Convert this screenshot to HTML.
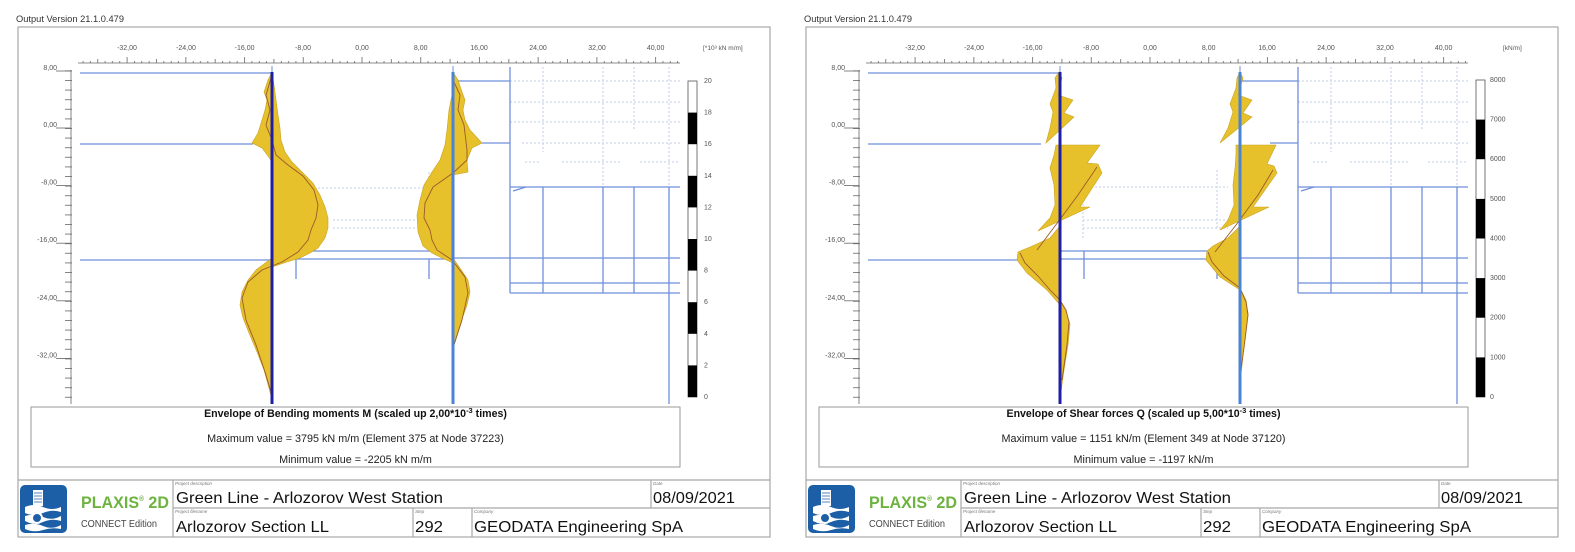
<!DOCTYPE html>
<html><head><meta charset="utf-8">
<style>
html,body{margin:0;padding:0;background:#fff;}
svg{display:block;}
text{font-family:"Liberation Sans",Arial,sans-serif;}
</style></head>
<body>
<svg width="1575" height="552" viewBox="0 0 1575 552" xmlns="http://www.w3.org/2000/svg">
<defs>
  <pattern id="rulerL" patternUnits="userSpaceOnUse" x="361.5" y="55" width="58.72" height="8">
    <path d="M0.5,2v6M7.84,6v2M15.18,6v2M22.52,6v2M29.86,4v4M37.2,6v2M44.54,6v2M51.88,6v2" stroke="#666" stroke-width="0.8"/>
  </pattern>
  <pattern id="yt" patternUnits="userSpaceOnUse" x="60" y="70.4" width="12" height="9.6">
    <path d="M5,0.5H12" stroke="#666" stroke-width="0.8"/>
  </pattern>
</defs>

<!-- ================= LEFT PANEL ================= -->
<g>
  <text x="16" y="22" font-size="9.3" fill="#333">Output Version 21.1.0.479</text>
  <rect x="18" y="27" width="752" height="510" fill="#fff" stroke="#a8a8a8" stroke-width="1.2"/>

  <!-- top ruler -->
  <rect x="78" y="55" width="602" height="8" fill="url(#rulerL)"/>
  <line x1="78" y1="63" x2="680" y2="63" stroke="#666" stroke-width="0.8"/>
  <g font-size="7" fill="#555" text-anchor="middle">
    <text x="127" y="50">-32,00</text><text x="186" y="50">-24,00</text><text x="244.6" y="50">-16,00</text>
    <text x="303" y="50">-8,00</text><text x="362" y="50">0,00</text><text x="420.7" y="50">8,00</text>
    <text x="479" y="50">16,00</text><text x="538" y="50">24,00</text><text x="597" y="50">32,00</text><text x="655.6" y="50">40,00</text>
  </g>
  <text x="703" y="50" font-size="6.5" fill="#555">[*10³ kN m/m]</text>

  <!-- y axis -->
  <rect x="60" y="70" width="12" height="334" fill="url(#yt)"/>
  <line x1="71" y1="70" x2="71" y2="404" stroke="#666" stroke-width="0.8"/>
  <g stroke="#666" stroke-width="0.8">
    <line x1="56" y1="71" x2="71" y2="71"/><line x1="56" y1="128" x2="71" y2="128"/><line x1="56" y1="185.6" x2="71" y2="185.6"/>
    <line x1="56" y1="243.2" x2="71" y2="243.2"/><line x1="56" y1="300.8" x2="71" y2="300.8"/><line x1="56" y1="358.4" x2="71" y2="358.4"/>
  </g>
  <g font-size="7" fill="#555" text-anchor="end">
    <text x="57" y="70">8,00</text><text x="57" y="127">0,00</text><text x="57" y="184.6">-8,00</text>
    <text x="57" y="242.2">-16,00</text><text x="57" y="299.8">-24,00</text><text x="57" y="357.4">-32,00</text>
  </g>

  <!-- dotted grid -->
  <g stroke="#c3cde8" stroke-width="1" stroke-dasharray="2,2" fill="none">
    <line x1="510" y1="81" x2="680" y2="81"/><line x1="510" y1="102" x2="680" y2="102"/>
    <line x1="510" y1="122" x2="680" y2="122"/><line x1="522" y1="143" x2="680" y2="143"/>
    <line x1="525" y1="162" x2="540" y2="162"/><line x1="562" y1="162" x2="620" y2="162"/><line x1="640" y1="162" x2="680" y2="162"/>
    <line x1="543" y1="67" x2="543" y2="152"/><line x1="603" y1="67" x2="603" y2="187"/>
    <line x1="634" y1="67" x2="634" y2="130"/><line x1="669" y1="67" x2="669" y2="187"/>
    <line x1="318" y1="188" x2="425" y2="188"/><line x1="333" y1="220" x2="420" y2="220"/><line x1="333" y1="228" x2="420" y2="228"/>
    <line x1="429" y1="172" x2="429" y2="200"/>
  </g>

  <!-- structure -->
  <g stroke="#6f8fdc" stroke-width="1.3" fill="none">
    <line x1="80" y1="73" x2="272" y2="73"/><line x1="80" y1="144" x2="253" y2="144"/><line x1="80" y1="260" x2="272" y2="260"/>
    <line x1="453" y1="81" x2="510" y2="81"/><line x1="482" y1="143" x2="510" y2="143"/><line x1="510" y1="67" x2="510" y2="293"/>
    <line x1="453" y1="258" x2="680" y2="258"/><line x1="510" y1="187" x2="680" y2="187"/>
    <line x1="510" y1="283" x2="680" y2="283"/><line x1="510" y1="293" x2="680" y2="293"/>
    <line x1="543" y1="187" x2="543" y2="293"/><line x1="603" y1="187" x2="603" y2="293"/><line x1="634" y1="187" x2="634" y2="293"/>
    <line x1="669" y1="187" x2="669" y2="404"/>
    <line x1="513" y1="191" x2="526" y2="187"/>
    <line x1="305" y1="251" x2="440" y2="251"/><line x1="272" y1="259" x2="453" y2="259"/>
    <line x1="296" y1="259" x2="296" y2="279"/><line x1="429" y1="259" x2="429" y2="279"/>
  </g>

  <!-- bending moment envelopes -->
  <g fill="#e6c12c" stroke="#caa21e" stroke-width="0.6">
    <polygon points="272,72 268,80 264,92 267,100 265,110 262,120 258,133 252,143 262,148 268,156 272,162"/>
    <polygon points="272,72 274,85 276,100 278,115 280,128 281,140 285,152 292,162 302,172 313,183 320,195 325,207 328,218 328,228 325,238 318,248 310,253 300,258 287,262 278,265 272,267"/>
    <polygon points="272,258 264,264 256,270 248,280 242,292 240,305 243,318 249,333 257,352 264,370 269,388 272,400"/>
    <polygon points="453,72 458,80 462,92 465,100 463,110 465,120 470,130 482,143 472,148 467,160 468,172 453,175"/>
    <polygon points="453,90 449,110 447,130 445,145 440,160 432,172 424,185 420,200 417,215 418,232 423,246 432,253 442,258 453,263"/>
    <polygon points="453,258 460,268 468,280 470,292 467,305 461,322 456,337 453,350"/>
  </g>
  <g fill="none" stroke="#9a5a2a" stroke-width="0.9">
    <polyline points="271,78 266,95 270,110 266,125 272,140 276,155 288,165 303,176 314,190 318,205 316,218 311,230 308,240 298,252 282,262 262,270 248,282 242,298 246,320 256,345 265,372 271,392"/>
    <polyline points="453,80 460,95 458,110 464,125 467,150 467,160 453,173 433,187 425,203 424,218 430,230 432,240 437,250 452,260 465,277 468,293 462,320 454,345"/>
  </g>

  <!-- walls -->
  <line x1="272" y1="66" x2="272" y2="72" stroke="#6f8fdc" stroke-width="1"/>
  <line x1="272" y1="72" x2="272" y2="404" stroke="#1e1ea6" stroke-width="3"/>
  <line x1="453" y1="66" x2="453" y2="72" stroke="#6f8fdc" stroke-width="1"/>
  <line x1="453" y1="72" x2="453" y2="404" stroke="#4b84d6" stroke-width="3"/>

  <!-- colour bar -->
  <rect x="688" y="81" width="9" height="316" fill="#fff" stroke="#555" stroke-width="0.8"/>
  <g fill="#000">
    <rect x="688" y="112.6" width="9" height="31.6"/><rect x="688" y="175.8" width="9" height="31.6"/>
    <rect x="688" y="239" width="9" height="31.6"/><rect x="688" y="302.2" width="9" height="31.6"/>
    <rect x="688" y="365.4" width="9" height="31.6"/>
  </g>
  <g font-size="7" fill="#555">
    <text x="704" y="83">20</text><text x="704" y="114.6">18</text><text x="704" y="146.2">16</text>
    <text x="704" y="177.8">14</text><text x="704" y="209.4">12</text><text x="704" y="241">10</text>
    <text x="704" y="272.6">8</text><text x="704" y="304.2">6</text><text x="704" y="335.8">4</text>
    <text x="704" y="367.4">2</text><text x="704" y="399">0</text>
  </g>

  <!-- legend -->
  <rect x="31" y="407" width="649" height="60" fill="#fff" stroke="#9a9a9a" stroke-width="1"/>
  <text x="355.5" y="417" font-size="10.6" font-weight="bold" fill="#111" text-anchor="middle">Envelope of Bending moments M (scaled up 2,00*10<tspan font-size="7.5" dy="-4">-3</tspan><tspan dy="4"> times)</tspan></text>
  <text x="355.5" y="442" font-size="10.8" fill="#222" text-anchor="middle">Maximum value = 3795 kN m/m (Element 375 at Node 37223)</text>
  <text x="355.5" y="463" font-size="10.8" fill="#222" text-anchor="middle">Minimum value = -2205 kN m/m</text>

  <!-- title block -->
  <g stroke="#a8a8a8" stroke-width="1.2">
    <line x1="18" y1="480" x2="770" y2="480"/>
    <line x1="173" y1="480" x2="173" y2="537"/>
    <line x1="173" y1="508" x2="770" y2="508"/>
    <line x1="651" y1="480" x2="651" y2="508"/>
    <line x1="413" y1="508" x2="413" y2="537"/>
    <line x1="472" y1="508" x2="472" y2="537"/>
  </g>
  <rect x="20" y="485" width="47" height="48" rx="5" fill="#1d5fa6"/>
  <rect x="33" y="490" width="10" height="16" fill="#fff"/>
  <path d="M34,493h8M34,496h8M34,499h8M34,502h8" stroke="#1d5fa6" stroke-width="0.8"/>
  <path d="M25,507 Q34,503 43,507 T61,507 L61,512 Q52,509 43,513 T25,513Z" fill="#fff"/>
  <path d="M25,516 Q34,513 43,517 T61,516 L61,521 Q52,518 43,522 T25,521Z" fill="#fff"/>
  <circle cx="37" cy="518" r="5" fill="#1d5fa6" stroke="#fff" stroke-width="2"/>
  <path d="M25,525 Q34,522 43,526 T61,525 L61,529 Q52,527 43,530 T25,529Z" fill="#fff"/>
  <text x="81" y="508" font-size="17" font-weight="bold" fill="#6db33f" textLength="88" lengthAdjust="spacingAndGlyphs">PLAXIS<tspan font-size="7" dy="-7">®</tspan><tspan dy="7"> 2D</tspan></text>
  <text x="81" y="527" font-size="10" fill="#444" textLength="76" lengthAdjust="spacingAndGlyphs">CONNECT Edition</text>
  <g font-size="4.5" font-style="italic" fill="#777">
    <text x="175" y="485">Project description</text><text x="175" y="513">Project filename</text>
    <text x="653" y="485">Date</text><text x="415" y="513">Step</text><text x="474" y="513">Company</text>
  </g>
  <g font-size="16" fill="#111">
    <text x="176" y="503" textLength="267" lengthAdjust="spacingAndGlyphs">Green Line - Arlozorov West Station</text>
    <text x="176" y="532" textLength="153" lengthAdjust="spacingAndGlyphs">Arlozorov Section LL</text>
    <text x="653" y="503" textLength="82" lengthAdjust="spacingAndGlyphs">08/09/2021</text>
    <text x="415" y="532" textLength="28" lengthAdjust="spacingAndGlyphs">292</text>
    <text x="474" y="532" textLength="209" lengthAdjust="spacingAndGlyphs">GEODATA Engineering SpA</text>
  </g>
</g>

<!-- ================= RIGHT PANEL ================= -->
<g transform="translate(788,0)">
  <text x="16" y="22" font-size="9.3" fill="#333">Output Version 21.1.0.479</text>
  <rect x="18" y="27" width="752" height="510" fill="#fff" stroke="#a8a8a8" stroke-width="1.2"/>

  <rect x="78" y="55" width="602" height="8" fill="url(#rulerL)"/>
  <line x1="78" y1="63" x2="680" y2="63" stroke="#666" stroke-width="0.8"/>
  <g font-size="7" fill="#555" text-anchor="middle">
    <text x="127" y="50">-32,00</text><text x="186" y="50">-24,00</text><text x="244.6" y="50">-16,00</text>
    <text x="303" y="50">-8,00</text><text x="362" y="50">0,00</text><text x="420.7" y="50">8,00</text>
    <text x="479" y="50">16,00</text><text x="538" y="50">24,00</text><text x="597" y="50">32,00</text><text x="655.6" y="50">40,00</text>
  </g>
  <text x="715" y="50" font-size="6.5" fill="#555">[kN/m]</text>

  <rect x="60" y="70" width="12" height="334" fill="url(#yt)"/>
  <line x1="71" y1="70" x2="71" y2="404" stroke="#666" stroke-width="0.8"/>
  <g stroke="#666" stroke-width="0.8">
    <line x1="56" y1="71" x2="71" y2="71"/><line x1="56" y1="128" x2="71" y2="128"/><line x1="56" y1="185.6" x2="71" y2="185.6"/>
    <line x1="56" y1="243.2" x2="71" y2="243.2"/><line x1="56" y1="300.8" x2="71" y2="300.8"/><line x1="56" y1="358.4" x2="71" y2="358.4"/>
  </g>
  <g font-size="7" fill="#555" text-anchor="end">
    <text x="57" y="70">8,00</text><text x="57" y="127">0,00</text><text x="57" y="184.6">-8,00</text>
    <text x="57" y="242.2">-16,00</text><text x="57" y="299.8">-24,00</text><text x="57" y="357.4">-32,00</text>
  </g>

  <g stroke="#c3cde8" stroke-width="1" stroke-dasharray="2,2" fill="none">
    <line x1="510" y1="81" x2="680" y2="81"/><line x1="510" y1="102" x2="680" y2="102"/>
    <line x1="510" y1="122" x2="680" y2="122"/><line x1="522" y1="143" x2="680" y2="143"/>
    <line x1="525" y1="162" x2="540" y2="162"/><line x1="562" y1="162" x2="620" y2="162"/><line x1="640" y1="162" x2="680" y2="162"/>
    <line x1="543" y1="67" x2="543" y2="152"/><line x1="603" y1="67" x2="603" y2="187"/>
    <line x1="634" y1="67" x2="634" y2="130"/><line x1="669" y1="67" x2="669" y2="187"/>
    <line x1="295" y1="187" x2="440" y2="187"/><line x1="295" y1="220" x2="440" y2="220"/><line x1="295" y1="228" x2="440" y2="228"/>
    <line x1="429" y1="170" x2="429" y2="230"/><line x1="295" y1="200" x2="295" y2="240"/>
  </g>

  <g stroke="#6f8fdc" stroke-width="1.3" fill="none">
    <line x1="80" y1="73" x2="272" y2="73"/><line x1="80" y1="144" x2="253" y2="144"/><line x1="80" y1="260" x2="272" y2="260"/>
    <line x1="453" y1="81" x2="510" y2="81"/><line x1="482" y1="143" x2="510" y2="143"/><line x1="510" y1="67" x2="510" y2="293"/>
    <line x1="453" y1="258" x2="680" y2="258"/><line x1="510" y1="187" x2="680" y2="187"/>
    <line x1="510" y1="283" x2="680" y2="283"/><line x1="510" y1="293" x2="680" y2="293"/>
    <line x1="543" y1="187" x2="543" y2="293"/><line x1="603" y1="187" x2="603" y2="293"/><line x1="634" y1="187" x2="634" y2="293"/>
    <line x1="669" y1="187" x2="669" y2="404"/>
    <line x1="513" y1="191" x2="526" y2="187"/>
    <line x1="272" y1="251" x2="440" y2="251"/><line x1="272" y1="259" x2="453" y2="259"/>
    <line x1="296" y1="251" x2="296" y2="279"/><line x1="429" y1="259" x2="429" y2="279"/>
  </g>

  <!-- shear force envelopes -->
  <g fill="#e6c12c" stroke="#caa21e" stroke-width="0.6">
    <polygon points="271,72 274,78 270,95 285,100 276,113 286,117 258,143 262,128 265,112 262,104 268,88 267,78"/>
    <polygon points="268,145 312,145 299,163 310,164 314,173 292,207 302,207 250,231 262,218 267,205 266,185 262,168 266,155"/>
    <polygon points="272,226 262,238 242,247 230,252 229,260 239,273 259,290 272,305"/>
    <polygon points="272,300 278,312 282,324 280,345 276,370 273,392 272,400"/>
    <polygon points="452,72 455,78 450,95 464,100 455,113 464,117 432,143 440,128 445,112 442,104 448,88 449,78"/>
    <polygon points="448,145 488,145 479,164 486,166 489,173 465,207 481,207 432,230 440,220 446,205 445,185 447,168 448,155"/>
    <polygon points="452,226 440,238 425,246 419,251 418,260 432,277 452,290"/>
    <polygon points="452,288 458,300 460,313 458,330 455,355 453,375 452,382"/>
  </g>
  <g fill="none" stroke="#9a5a2a" stroke-width="0.9">
    <polyline points="249,250 270,222 290,195 309,167"/>
    <polyline points="232,253 237,263 250,276 262,290 272,300 278,310 281,322 279,345 274,380"/>
    <polyline points="427,252 448,225 470,195 485,170"/>
    <polyline points="420,252 424,262 436,276 452,288 458,302 460,315 457,340 453,370"/>
  </g>

  <line x1="272" y1="66" x2="272" y2="72" stroke="#6f8fdc" stroke-width="1"/>
  <line x1="272" y1="72" x2="272" y2="404" stroke="#1e1ea6" stroke-width="3"/>
  <line x1="452" y1="66" x2="452" y2="72" stroke="#6f8fdc" stroke-width="1"/>
  <line x1="452" y1="72" x2="452" y2="404" stroke="#4b84d6" stroke-width="3"/>

  <rect x="688" y="80" width="9" height="317" fill="#fff" stroke="#555" stroke-width="0.8"/>
  <g fill="#000">
    <rect x="688" y="119.6" width="9" height="39.6"/><rect x="688" y="198.9" width="9" height="39.6"/>
    <rect x="688" y="278.1" width="9" height="39.6"/><rect x="688" y="357.4" width="9" height="39.6"/>
  </g>
  <g font-size="7" fill="#555">
    <text x="702" y="82">8000</text><text x="702" y="121.6">7000</text><text x="702" y="161.2">6000</text>
    <text x="702" y="200.9">5000</text><text x="702" y="240.5">4000</text><text x="702" y="280.1">3000</text>
    <text x="702" y="319.7">2000</text><text x="702" y="359.4">1000</text><text x="702" y="399">0</text>
  </g>

  <rect x="31" y="407" width="649" height="60" fill="#fff" stroke="#9a9a9a" stroke-width="1"/>
  <text x="355.5" y="417" font-size="10.6" font-weight="bold" fill="#111" text-anchor="middle">Envelope of Shear forces Q (scaled up 5,00*10<tspan font-size="7.5" dy="-4">-3</tspan><tspan dy="4"> times)</tspan></text>
  <text x="355.5" y="442" font-size="10.8" fill="#222" text-anchor="middle">Maximum value = 1151 kN/m (Element 349 at Node 37120)</text>
  <text x="355.5" y="463" font-size="10.8" fill="#222" text-anchor="middle">Minimum value = -1197 kN/m</text>

  <g stroke="#a8a8a8" stroke-width="1.2">
    <line x1="18" y1="480" x2="770" y2="480"/>
    <line x1="173" y1="480" x2="173" y2="537"/>
    <line x1="173" y1="508" x2="770" y2="508"/>
    <line x1="651" y1="480" x2="651" y2="508"/>
    <line x1="413" y1="508" x2="413" y2="537"/>
    <line x1="472" y1="508" x2="472" y2="537"/>
  </g>
  <rect x="20" y="485" width="47" height="48" rx="5" fill="#1d5fa6"/>
  <rect x="33" y="490" width="10" height="16" fill="#fff"/>
  <path d="M34,493h8M34,496h8M34,499h8M34,502h8" stroke="#1d5fa6" stroke-width="0.8"/>
  <path d="M25,507 Q34,503 43,507 T61,507 L61,512 Q52,509 43,513 T25,513Z" fill="#fff"/>
  <path d="M25,516 Q34,513 43,517 T61,516 L61,521 Q52,518 43,522 T25,521Z" fill="#fff"/>
  <circle cx="37" cy="518" r="5" fill="#1d5fa6" stroke="#fff" stroke-width="2"/>
  <path d="M25,525 Q34,522 43,526 T61,525 L61,529 Q52,527 43,530 T25,529Z" fill="#fff"/>
  <text x="81" y="508" font-size="17" font-weight="bold" fill="#6db33f" textLength="88" lengthAdjust="spacingAndGlyphs">PLAXIS<tspan font-size="7" dy="-7">®</tspan><tspan dy="7"> 2D</tspan></text>
  <text x="81" y="527" font-size="10" fill="#444" textLength="76" lengthAdjust="spacingAndGlyphs">CONNECT Edition</text>
  <g font-size="4.5" font-style="italic" fill="#777">
    <text x="175" y="485">Project description</text><text x="175" y="513">Project filename</text>
    <text x="653" y="485">Date</text><text x="415" y="513">Step</text><text x="474" y="513">Company</text>
  </g>
  <g font-size="16" fill="#111">
    <text x="176" y="503" textLength="267" lengthAdjust="spacingAndGlyphs">Green Line - Arlozorov West Station</text>
    <text x="176" y="532" textLength="153" lengthAdjust="spacingAndGlyphs">Arlozorov Section LL</text>
    <text x="653" y="503" textLength="82" lengthAdjust="spacingAndGlyphs">08/09/2021</text>
    <text x="415" y="532" textLength="28" lengthAdjust="spacingAndGlyphs">292</text>
    <text x="474" y="532" textLength="209" lengthAdjust="spacingAndGlyphs">GEODATA Engineering SpA</text>
  </g>
</g>
</svg>
</body></html>
